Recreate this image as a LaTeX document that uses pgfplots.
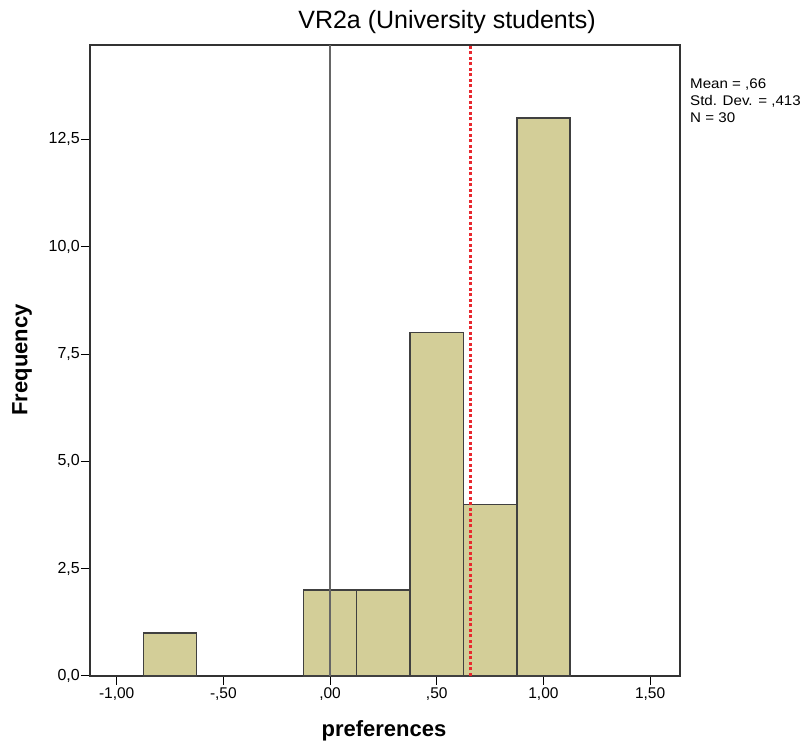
\documentclass[border=0pt]{standalone}
\usepackage{fontspec}
\setmainfont{Liberation Sans}
\newfontfamily\statfont[FakeStretch=1.08]{Liberation Sans}
\usepackage{pgfplots}
\pgfplotsset{compat=1.18}
\definecolor{barfill}{HTML}{D3CE98}
\definecolor{meanred}{HTML}{E8282E}
\begin{document}
\begin{tikzpicture}
\begin{axis}[at={(90pt,70pt)}, anchor=south west, scale only axis,
  width=590pt, height=631pt,
  xmin=-1.125, xmax=1.64, ymin=0, ymax=14.7,
  xtick={-1,-0.5,0,0.5,1,1.5},
  xticklabels={{-1,00},{-,50},{,00},{,50},{1,00},{1,50}},
  ytick={0,2.5,5,7.5,10,12.5},
  yticklabels={{0,0},{2,5},{5,0},{7,5},{10,0},{12,5}},
  tick pos=left, tick align=outside, major tick length=9pt,
  tick style={black, line width=1pt},
  axis line style={draw=black!80, line width=1.2pt},
  xticklabel style={font=\fontsize{15.5}{17}\selectfont, inner sep=2.5pt},
  yticklabel style={font=\fontsize{16}{18}\selectfont, inner sep=1pt},
  clip=false]
\addplot[ybar, bar width=0.25, fill=barfill, draw=black!75, line width=1.5pt]
  coordinates {(-0.75,1) (0,2) (0.25,2) (0.5,8) (0.75,4) (1.0,13)};
\addplot[black!60, line width=1.5pt] coordinates {(0,0) (0,14.7)};
\addplot[meanred, line width=3pt, dash pattern=on 3pt off 2.5pt] coordinates {(0.66,0) (0.66,14.7)};
\end{axis}
\node[font=\fontsize{25}{28}\selectfont] at (447pt,724pt) {VR2a (University students)};
\node[font=\fontsize{22}{24}\selectfont\bfseries, rotate=90] at (22pt,386pt) {Frequency};
\node[font=\fontsize{22}{24}\selectfont\bfseries] at (384pt,15pt) {preferences};
\node[font=\statfont\fontsize{14}{16.7}\selectfont, anchor=north west, align=left, inner sep=0pt] at (690pt,667pt)
  {Mean = ,66\\Std. Dev. = ,413\\N = 30};
\pgfresetboundingbox
\path[use as bounding box] (0,0) rectangle (803pt,746pt);
\end{tikzpicture}
\end{document}
